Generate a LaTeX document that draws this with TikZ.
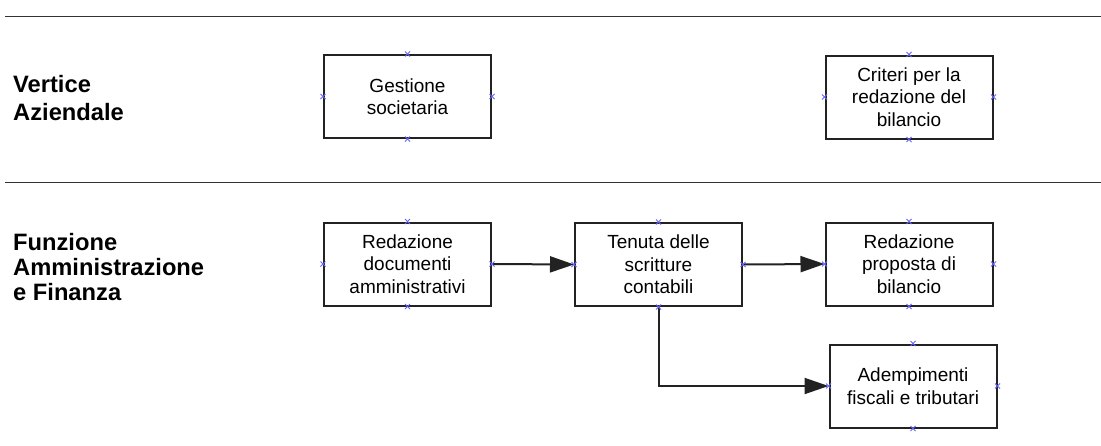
\documentclass[tikz,border=0pt]{standalone}
\usepackage{fontspec}
\setmainfont{Liberation Sans}
\usetikzlibrary{arrows.meta}
\definecolor{boxline}{RGB}{34,34,34}
\definecolor{sepline}{RGB}{50,50,50}
\definecolor{pin}{RGB}{100,100,255}
\tikzset{
  x=1pt,y=-1pt,
  stepbox/.style={draw=boxline,line width=2pt,fill=white,minimum width=167pt,minimum height=83pt,
    align=center,inner sep=0pt,font=\fontsize{19}{22.5}\selectfont},
  lanelabel/.style={anchor=north west,align=left,inner sep=0pt},
  sep/.style={draw=sepline,line width=1pt},
  flow/.style={draw=boxline,line width=2pt,-{Triangle[length=24pt,width=16pt]}},
  pinmark/.style={draw=pin,line width=0.8pt}
}
\newcommand{\pins}[1]{%
  \foreach \a in {north,south,east,west}{%
    \draw[pinmark] ([shift={(-2.5,-2.5)}]#1.\a) -- ([shift={(2.5,2.5)}]#1.\a);
    \draw[pinmark] ([shift={(-2.5,2.5)}]#1.\a) -- ([shift={(2.5,-2.5)}]#1.\a);
  }}
\begin{document}
\begin{tikzpicture}
\useasboundingbox[fill=white] (0,0) rectangle (1101,445);
\coordinate (l1a) at (5,16);
\coordinate (l1b) at (1101,16);
\coordinate (l2a) at (5,182);
\coordinate (l2b) at (1101,182);
\draw[sep] (l1a) -- (l1b);
\draw[sep] (l2a) -- (l2b);

\node[lanelabel,font=\fontsize{23.7}{28}\selectfont\bfseries] (vert) at (13,75) {Vertice\\Aziendale};
\node[lanelabel,font=\fontsize{23.7}{25}\selectfont\bfseries] (funz) at (13,233.5) {Funzione\\Amministrazione\\e Finanza};

\node[stepbox] (gest) at (407.5,96.5) {Gestione\\societaria};
\node[stepbox] (crit) at (909,97) {Criteri per la\\redazione del\\bilancio};
\node[stepbox] (reddoc) at (407.5,264) {Redazione\\documenti\\amministrativi};
\node[stepbox] (ten) at (658.5,264.5) {Tenuta delle\\scritture\\contabili};
\node[stepbox] (prop) at (909,264) {Redazione\\proposta di\\bilancio};
\node[stepbox] (adem) at (913,386) {Adempimenti\\fiscali e tributari};

\draw[flow] (reddoc.east) -- (ten.west);
\draw[flow] (ten.east) -- (prop.west);
\draw[flow] (ten.south) |- (adem.west);

\pins{gest}\pins{crit}\pins{reddoc}\pins{ten}\pins{prop}\pins{adem}
\end{tikzpicture}
\end{document}
